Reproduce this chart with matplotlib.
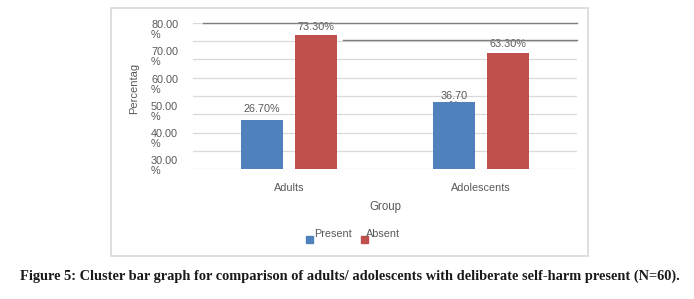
import matplotlib
matplotlib.use("Agg")
import matplotlib.pyplot as plt
from matplotlib.patches import Rectangle
from matplotlib.lines import Line2D

categories = ["Adults", "Adolescents"]
series_names = ["Present", "Absent"]
present = [26.7, 36.7]
absent = [73.3, 63.3]
present_labels = ["26.70%", "36.70\n%"]
absent_labels = ["73.30%", "63.30%"]
ytick_labels = ["80.00\n%", "70.00\n%", "60.00\n%", "50.00\n%", "40.00\n%", "30.00\n%"]
caption = "Figure 5: Cluster bar graph for comparison of adults/ adolescents with deliberate self-harm present (N=60)."

W, H = 694, 299
fig = plt.figure(figsize=(W / 100, H / 100), dpi=100)
fig.patch.set_facecolor("white")

def fx(x):
    return x / W

def fy(y):
    return 1 - y / H

blue = "#4f81bd"
red = "#c0504d"
gray_text = "#595959"
sans = "Liberation Sans"
fs = 7.8

# chart frame
fig.patches.append(Rectangle((fx(111), fy(256)), fx(588) - fx(111), fy(8) - fy(256),
                             transform=fig.transFigure, fill=False, edgecolor="#d9d9d9", lw=1.2))

ax = fig.add_axes([fx(193), fy(169), fx(577) - fx(193), fy(23) - fy(169)])
ax.set_xlim(-0.5, 1.5)
ax.set_ylim(0, 80)
ax.set_yticks(range(0, 81, 10))
ax.set_yticklabels([])
ax.tick_params(axis="y", length=0)
ax.grid(axis="y", color="#d9d9d9", lw=0.9, zorder=0)
for s in ax.spines.values():
    s.set_visible(False)
ax.set_xticks(range(len(categories)))
ax.set_xticklabels(categories, fontsize=fs, color=gray_text, family=sans)
ax.tick_params(axis="x", length=0, pad=10)

xs = list(range(len(categories)))
off = 0.141
bw = 0.22
ax.bar([x - off for x in xs], present, width=bw, color=blue, zorder=3)
ax.bar([x + off for x in xs], absent, width=bw, color=red, zorder=3)

# data labels
ax.text(0 - off, present[0] + 3.5, present_labels[0], ha="center", va="bottom",
        fontsize=fs, color=gray_text, family=sans, zorder=2)
ax.text(1 - off, present[1] - 4.8, present_labels[1], ha="center", va="bottom",
        fontsize=fs, color=gray_text, family=sans, zorder=2, linespacing=1.0)
ax.text(0 + off, absent[0] + 2.0, absent_labels[0], ha="center", va="bottom",
        fontsize=fs, color=gray_text, family=sans, zorder=2)
ax.text(1 + off, absent[1] + 2.3, absent_labels[1], ha="center", va="bottom",
        fontsize=fs, color=gray_text, family=sans, zorder=2)

# dark overlay lines
fig.lines.append(Line2D([fx(203), fx(577)], [fy(23), fy(23)], transform=fig.transFigure,
                        color="#7f7f7f", lw=1.0, zorder=5))
fig.lines.append(Line2D([fx(343), fx(577)], [fy(40), fy(40)], transform=fig.transFigure,
                        color="#7f7f7f", lw=1.0, zorder=5))

# y tick labels (as drawn in the reference)
for i, lab in enumerate(ytick_labels):
    y = 20 + i * 27.3
    fig.text(fx(151), fy(y), lab, ha="left", va="top", fontsize=fs, color=gray_text,
             family=sans, linespacing=1.0)

# axis titles
fig.text(fx(134), fy(88), "Percentag", rotation=90, ha="center", va="center",
         fontsize=8, color=gray_text, family=sans)
fig.text(fx(385), fy(207), "Group", ha="center", va="center",
         fontsize=8.3, color=gray_text, family=sans)

# legend
fig.patches.append(Rectangle((fx(306), fy(243)), 7 / W, 7 / H, transform=fig.transFigure,
                             color=blue))
fig.text(fx(314), fy(234), series_names[0], ha="left", va="center", fontsize=fs,
         color=gray_text, family=sans)
fig.patches.append(Rectangle((fx(361), fy(243)), 7 / W, 7 / H, transform=fig.transFigure,
                             color=red))
fig.text(fx(366), fy(234), series_names[1], ha="left", va="center", fontsize=fs,
         color=gray_text, family=sans)

# caption
fig.text(fx(350), fy(276), caption, ha="center", va="center", fontsize=10.4,
         fontweight="bold", family="Liberation Serif", color="#1a1a1a")

fig.savefig("out.png", dpi=100)
